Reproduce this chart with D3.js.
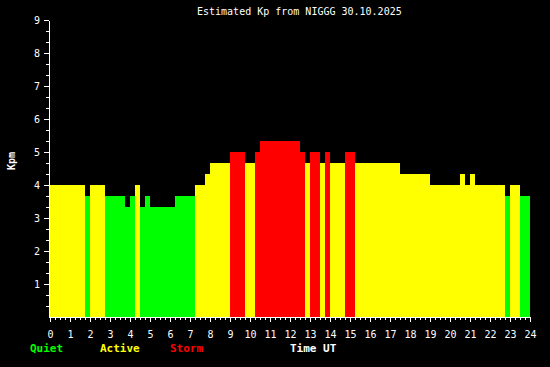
<!DOCTYPE html>
<html>
<head>
<meta charset="utf-8">
<script src="https://cdn.jsdelivr.net/npm/d3@7"></script>
<style>
  html, body { margin: 0; padding: 0; background: #000; }
  svg { display: block; }
  text { font-family: "DejaVu Sans Mono", "Liberation Mono", monospace; }
</style>
</head>
<body>
<script>
// 15-minute Kp estimates (96 slots, 00:00 - 24:00 UT)
const kpValues = [
  4, 4, 4, 4, 4, 4, 4, 3.67,
  4, 4, 4, 3.67, 3.67, 3.67, 3.67, 3.33,
  3.67, 4, 3.33, 3.67, 3.33, 3.33, 3.33, 3.33,
  3.33, 3.67, 3.67, 3.67, 3.67, 4, 4, 4.33,
  4.67, 4.67, 4.67, 4.67, 5, 5, 5, 4.67,
  4.67, 5, 5.33, 5.33, 5.33, 5.33, 5.33, 5.33,
  5.33, 5.33, 5, 4.67, 5, 5, 4.67, 5,
  4.67, 4.67, 4.67, 5, 5, 4.67, 4.67, 4.67,
  4.67, 4.67, 4.67, 4.67, 4.67, 4.67, 4.33, 4.33,
  4.33, 4.33, 4.33, 4.33, 4, 4, 4, 4,
  4, 4, 4.33, 4, 4.33, 4, 4, 4,
  4, 4, 4, 3.67, 4, 4, 3.67, 3.67
];
const slotHours = 0.25;
const xTickLabels = d3.range(0, 25);
const yTickLabels = d3.range(1, 10);
const title = "Estimated Kp from NIGGG 30.10.2025";
const legendLabels = ["Quiet", "Active", "Storm"];
const legendColors = ["#00ff00", "#ffff00", "#ff0000"];

const W = 550, H = 367;
const svg = d3.select("body").append("svg").attr("width", W).attr("height", H);
svg.append("rect").attr("width", W).attr("height", H).attr("fill", "#000");

const x = d3.scaleLinear().domain([0, 24]).range([50, 530]);
const y = d3.scaleLinear().domain([0, 9]).range([317, 20]);

function kpColor(v) {
  if (v < 4) return legendColors[0];
  if (v < 5) return legendColors[1];
  return legendColors[2];
}

// bars
svg.append("g").attr("shape-rendering", "crispEdges")
  .selectAll("rect").data(kpValues).join("rect")
  .attr("x", (d, i) => x(i * slotHours))
  .attr("width", (d, i) => x((i + 1) * slotHours) - x(i * slotHours))
  .attr("y", d => y(d))
  .attr("height", d => y(0) - y(d))
  .attr("fill", d => kpColor(d));

function styleAxis(g) {
  g.attr("shape-rendering", "crispEdges");
  g.selectAll("path, line").attr("stroke", "#fff");
  g.selectAll("text").attr("fill", "#fff")
    .style("font-family", '"DejaVu Sans Mono", monospace').style("font-size", "10px");
}

// y axis minor (thirds)
const yMinor = d3.range(1, 28).map(k => k / 3);
svg.append("g").attr("transform", "translate(49,0)")
  .call(d3.axisLeft(y).tickValues(yMinor).tickSize(3).tickSizeOuter(0).tickFormat(""))
  .call(styleAxis);
// y axis major
svg.append("g").attr("transform", "translate(49,0)")
  .call(d3.axisLeft(y).tickValues(yTickLabels).tickSize(5).tickSizeOuter(0).tickPadding(4).tickFormat(d3.format("d")))
  .call(styleAxis);

// x axis minor (15 min)
const xMinor = d3.range(0, 97).map(k => k / 4);
svg.append("g").attr("transform", "translate(0,317)")
  .call(d3.axisBottom(x).tickValues(xMinor).tickSize(3).tickSizeOuter(0).tickFormat(""))
  .call(styleAxis);
// x axis major
svg.append("g").attr("transform", "translate(0,317)")
  .call(d3.axisBottom(x).tickValues(xTickLabels).tickSize(5).tickSizeOuter(0).tickPadding(9).tickFormat(d3.format("d")))
  .call(styleAxis);

// title
svg.append("text").attr("x", 197).attr("y", 15)
  .attr("fill", "#fff").style("font-size", "10px").text(title);

// y label
svg.append("text").attr("transform", "translate(15,161) rotate(-90)")
  .attr("text-anchor", "middle").attr("fill", "#fff")
  .style("font-size", "10px").style("font-weight", "bold").text("Kpm");

// legend
const legendX = [30, 100, 170];
svg.append("g").selectAll("text").data(legendLabels).join("text")
  .attr("x", (d, i) => legendX[i]).attr("y", 352)
  .attr("fill", (d, i) => legendColors[i])
  .style("font-size", "11px").style("font-weight", "bold").text(d => d);

svg.append("text").attr("x", 290).attr("y", 352)
  .attr("fill", "#fff").style("font-size", "11px").style("font-weight", "bold").text("Time UT");
</script>
</body>
</html>
